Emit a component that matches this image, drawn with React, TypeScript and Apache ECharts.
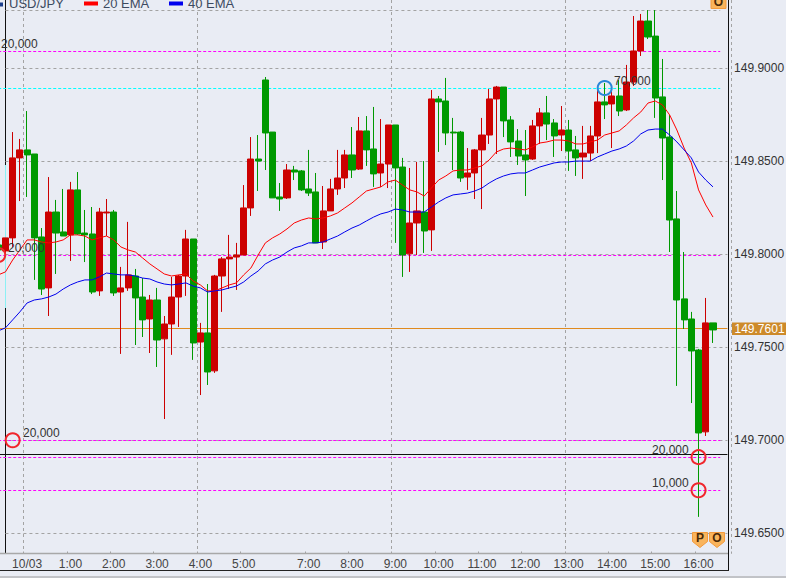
import React, { useEffect, useRef } from "react";
import * as echarts from "echarts";

const opens = [149.8051,149.8019,149.8089,149.8519,149.8562,149.8540,149.8094,149.7820,149.8228,149.8121,149.8105,149.8347,149.8115,149.8110,149.7804,149.8223,149.8228,149.7798,149.7820,149.7884,149.7771,149.7653,149.7755,149.7546,149.7626,149.7771,149.7884,149.8083,149.7529,149.7578,149.7374,149.7884,149.7976,149.7986,149.7997,149.8250,149.8513,149.8938,149.8658,149.8309,149.8304,149.8454,149.8449,149.8352,149.8336,149.8067,149.8234,149.8352,149.8411,149.8535,149.8459,149.8664,149.8567,149.8438,149.8486,149.8696,149.8470,149.8003,149.8169,149.8228,149.8132,149.8836,149.8825,149.8658,149.8658,149.8416,149.8438,149.8562,149.8642,149.8836,149.8900,149.8723,149.8610,149.8535,149.8513,149.8691,149.8761,149.8707,149.8642,149.8669,149.8562,149.8524,149.8545,149.8637,149.8820,149.8809,149.8852,149.8777,149.8927,149.9094,149.9255,149.9174,149.8847,149.8631,149.8191,149.7761,149.7653,149.7486,149.7046,149.7632];
const closes = [149.8024,149.8089,149.8519,149.8562,149.8535,149.8089,149.7814,149.8228,149.8115,149.8099,149.8347,149.8110,149.8105,149.7798,149.8228,149.8228,149.7793,149.7820,149.7890,149.7766,149.7648,149.7755,149.7540,149.7626,149.7771,149.7884,149.8083,149.7524,149.7578,149.7368,149.7884,149.7976,149.7986,149.7997,149.8250,149.8513,149.8502,149.8653,149.8304,149.8298,149.8454,149.8443,149.8347,149.8330,149.8062,149.8234,149.8352,149.8411,149.8535,149.8454,149.8664,149.8562,149.8433,149.8486,149.8696,149.8465,149.7997,149.8169,149.8234,149.8126,149.8836,149.8820,149.8653,149.8653,149.8411,149.8438,149.8562,149.8642,149.8836,149.8900,149.8718,149.8605,149.8529,149.8508,149.8691,149.8761,149.8701,149.8637,149.8669,149.8556,149.8519,149.8545,149.8637,149.8820,149.8804,149.8852,149.8771,149.8927,149.9094,149.9255,149.9169,149.8841,149.8626,149.8185,149.7755,149.7648,149.7481,149.7040,149.7632,149.7594];
const lows = [149.8024,149.8008,149.8040,149.8287,149.8309,149.7863,149.7782,149.7669,149.7895,149.8099,149.7965,149.8105,149.7959,149.7787,149.7777,149.8099,149.7777,149.7465,149.7804,149.7513,149.7556,149.7470,149.7395,149.7115,149.7460,149.7610,149.7777,149.7433,149.7244,149.7298,149.7363,149.7691,149.7814,149.7809,149.7997,149.8207,149.8341,149.8454,149.8304,149.8234,149.8298,149.8400,149.8341,149.8314,149.8062,149.8029,149.8234,149.8320,149.8357,149.8411,149.8454,149.8476,149.8363,149.8363,149.8357,149.8062,149.7879,149.7906,149.7997,149.8008,149.8019,149.8551,149.8588,149.8454,149.8390,149.8347,149.8298,149.8244,149.8594,149.8540,149.8631,149.8524,149.8481,149.8314,149.8508,149.8594,149.8615,149.8524,149.8556,149.8449,149.8422,149.8406,149.8502,149.8545,149.8728,149.8572,149.8744,149.8771,149.8906,149.9067,149.9158,149.8734,149.8400,149.8013,149.7293,149.7599,149.7201,149.6589,149.7024,149.7524];
const highs = [149.8051,149.8089,149.8658,149.8621,149.8771,149.8540,149.8142,149.8416,149.8293,149.8352,149.8390,149.8443,149.8239,149.8255,149.8250,149.8298,149.8239,149.7933,149.8175,149.7922,149.7873,149.7782,149.7820,149.7669,149.7879,149.7890,149.8132,149.8083,149.7632,149.7841,149.7890,149.7986,149.8105,149.8062,149.8373,149.8631,149.8642,149.8954,149.8658,149.8384,149.8486,149.8476,149.8454,149.8562,149.8438,149.8368,149.8406,149.8562,149.8562,149.8685,149.8739,149.8744,149.8793,149.8728,149.8696,149.8696,149.8519,149.8465,149.8497,149.8502,149.8884,149.8852,149.8949,149.8734,149.8664,149.8572,149.8567,149.8734,149.8890,149.8906,149.8900,149.8744,149.8674,149.8669,149.8723,149.8787,149.8852,149.8728,149.8798,149.8723,149.8637,149.8691,149.8691,149.8884,149.8922,149.8884,149.8938,149.9019,149.9282,149.9293,149.9314,149.9314,149.9051,149.8750,149.8341,149.8013,149.7691,149.7492,149.7766,149.7632];
const ema20 = [149.7890,149.7906,149.7970,149.8024,149.8078,149.8078,149.8067,149.8062,149.8067,149.8078,149.8105,149.8105,149.8099,149.8078,149.8089,149.8099,149.8078,149.8040,149.8024,149.8013,149.7981,149.7949,149.7922,149.7895,149.7884,149.7890,149.7895,149.7857,149.7836,149.7804,149.7804,149.7820,149.7836,149.7847,149.7890,149.7927,149.7997,149.8062,149.8089,149.8110,149.8137,149.8169,149.8185,149.8196,149.8191,149.8196,149.8207,149.8223,149.8250,149.8277,149.8309,149.8341,149.8352,149.8363,149.8390,149.8400,149.8373,149.8347,149.8336,149.8314,149.8357,149.8400,149.8422,149.8449,149.8454,149.8454,149.8465,149.8476,149.8508,149.8551,149.8567,149.8572,149.8567,149.8562,149.8578,149.8599,149.8605,149.8615,149.8615,149.8610,149.8594,149.8594,149.8605,149.8615,149.8642,149.8653,149.8664,149.8696,149.8734,149.8766,149.8814,149.8825,149.8804,149.8750,149.8669,149.8572,149.8492,149.8347,149.8266,149.8201];
const ema40 = [149.7589,149.7605,149.7648,149.7691,149.7739,149.7755,149.7761,149.7771,149.7787,149.7814,149.7836,149.7852,149.7863,149.7863,149.7879,149.7900,149.7895,149.7890,149.7890,149.7884,149.7873,149.7868,149.7852,149.7841,149.7836,149.7841,149.7847,149.7830,149.7820,149.7798,149.7804,149.7809,149.7820,149.7830,149.7852,149.7884,149.7911,149.7949,149.7970,149.7986,149.8013,149.8035,149.8046,149.8062,149.8062,149.8067,149.8083,149.8099,149.8121,149.8142,149.8158,149.8180,149.8201,149.8218,149.8228,149.8244,149.8239,149.8228,149.8228,149.8228,149.8255,149.8282,149.8304,149.8320,149.8325,149.8330,149.8341,149.8357,149.8384,149.8406,149.8422,149.8433,149.8438,149.8438,149.8454,149.8470,149.8481,149.8492,149.8497,149.8497,149.8502,149.8502,149.8502,149.8524,149.8540,149.8556,149.8567,149.8583,149.8610,149.8648,149.8669,149.8674,149.8674,149.8642,149.8605,149.8562,149.8519,149.8443,149.8400,149.8363];

const hourLabels: Record<number, string> = {
  4: "10/03", 10: "1:00", 16: "2:00", 22: "3:00", 28: "4:00", 34: "5:00", 43: "7:00", 49: "8:00",
  55: "9:00", 61: "10:00", 67: "11:00", 73: "12:00", 79: "13:00", 85: "14:00", 91: "15:00", 97: "16:00",
};
const gridIndexes = [4, 28, 55, 79];
const bandCount = 102;
const categories = Array.from({ length: bandCount }, (_, i) => hourLabels[i] ?? "");
const priceTicks = [149.65, 149.7, 149.75, 149.8, 149.85, 149.9];
const topLine = 149.9313;
const magentaLevels = [149.9094, 149.7995, 149.7001, 149.691, 149.6732];
const cyanLevel = 149.8892;
const blackLevel = 149.6926;
const lastPrice = 149.7603;
const circles = [
  { i: 0, v: 149.7997, color: "#f0262c" },
  { i: 2, v: 149.7001, color: "#f0262c" },
  { i: 97, v: 149.691, color: "#f0262c" },
  { i: 97, v: 149.6732, color: "#f0262c" },
  { i: 84, v: 149.8895, color: "#2a86d8" },
];
const volumeNotes = [
  { t: "20,000", x: 1, y: 44 },
  { t: "20,000", x: 8, y: 248 },
  { t: "20,000", x: 23, y: 433 },
  { t: "70,000", x: 614, y: 81 },
  { t: "20,000", x: 652, y: 450 },
  { t: "10,000", x: 652, y: 483 },
];

const hLine = (v: number, from: number, to: number, color: string, type: any, width = 1) => [
  { xAxis: from, yAxis: v, lineStyle: { color, type, width } },
  { xAxis: to, yAxis: v },
];

function badge(cx: number, letter: string) {
  return [
    {
      type: "polygon", z: 50,
      shape: { points: [[cx - 7.5, 532.5], [cx + 7.5, 532.5], [cx + 7.5, 541.5], [cx, 547.5], [cx - 7.5, 541.5]] },
      style: { fill: "#f9b45c", stroke: "#f39a3c", lineWidth: 1 },
    },
    {
      type: "text", z: 51, x: cx, y: 538,
      style: { text: letter, fill: "#4a2a08", font: "bold 12px 'Liberation Sans'", align: "center", verticalAlign: "middle" },
    },
  ];
}

export default function App() {
  const ref = useRef<HTMLDivElement>(null);
  useEffect(() => {
    const chart = echarts.init(ref.current!, undefined, { renderer: "svg" });
    const gray = "#a3a3a3";
    const font = "'Liberation Sans'";
    const txt = (t: string, x: number, y: number, fill = "#333", size = 12) => ({
      type: "text", z: 40, x, y,
      style: { text: t, fill, font: `${size}px ${font}`, verticalAlign: "middle" },
    });
    const vl = (x: number, y1: number, y2: number, stroke: string, w = 1, z = 1) => ({
      type: "line", z, shape: { x1: x, y1, x2: x, y2 }, style: { stroke, lineWidth: w },
    });
    const hl = (y: number, x1: number, x2: number, stroke: string, w = 1, z = 1) => ({
      type: "line", z, shape: { x1, y1: y, x2, y2: y }, style: { stroke, lineWidth: w },
    });
    chart.setOption({
      animation: false,
      backgroundColor: "#e9ecf4",
      grid: { left: -5.4, right: 54.96, top: 0, bottom: 24.5, containLabel: false, outerBoundsMode: "none" },
      xAxis: {
        type: "category",
        data: categories,
        boundaryGap: true,
        axisLine: { show: false },
        axisTick: {
          show: true, inside: true, length: 2, lineStyle: { color: "#a0a0a0" },
          interval: (i: number) => categories[i] !== "",
        },
        axisLabel: {
          color: "#444", fontFamily: "Liberation Sans", fontSize: 12, margin: 4,
          interval: (i: number) => categories[i] !== "", hideOverlap: false,
        },
        splitLine: {
          show: true, lineStyle: { color: gray, type: [3, 3], width: 1 },
          interval: (i: number) => gridIndexes.includes(i),
        },
      },
      yAxis: {
        type: "value",
        position: "right",
        min: 149.6392,
        max: 149.9368,
        scale: true,
        axisLine: { show: false },
        axisTick: { show: false },
        splitLine: { show: false },
        axisLabel: {
          customValues: priceTicks, color: "#333", fontFamily: "Liberation Sans", fontSize: 12, margin: 3,
          padding: [2, 0, 0, 0],
          formatter: (v: number) => v.toFixed(4),
        },
      },
      series: [
        {
          type: "candlestick",
          barWidth: 6.6,
          z: 3,
          data: opens.map((o, i) => [o, closes[i], lows[i], highs[i]]),
          itemStyle: { color: "#cc0000", color0: "#009900", borderColor: "#cc0000", borderColor0: "#009900", borderWidth: 1 },
          markLine: {
            silent: true, symbol: "none", animation: false, z: 1, label: { show: false },
            data: [
              hLine(topLine, 0.66, 100.3, gray, [3, 3]),
              ...priceTicks.map((v) => hLine(v, 0.66, 100.5, gray, [3, 3])),
              ...magentaLevels.map((v) => hLine(v, -0.2, 99.55, "#ff00ff", [3, 2])),
              hLine(cyanLevel, -0.2, 99.55, "#00ffff", [3, 2]),
              hLine(blackLevel, -0.2, 100.6, "#111", "solid"),
              hLine(lastPrice, -0.2, 100.5, "#e08a1e", "solid"),
            ],
          },
        },
        { type: "line", data: ema20, showSymbol: false, z: 5, lineStyle: { color: "#ff0000", width: 1 } },
        { type: "line", data: ema40, showSymbol: false, z: 6, lineStyle: { color: "#0000ee", width: 1 } },
        {
          type: "scatter", z: 7, symbol: "circle", symbolSize: 14,
          data: circles.map((c) => ({
            value: [c.i, c.v],
            itemStyle: { color: "rgba(0,0,0,0)", borderColor: c.color, borderWidth: 2, opacity: 1 },
          })),
        },
      ],
      graphic: [
        vl(5.5, 0, 165, "#111"),
        vl(5.5, 165, 308, "#8cf0f4"),
        vl(5.5, 308, 553, "#111"),
        hl(553.5, 0, 728, "#a8a8a8", 1.5),
        vl(728.5, 0, 570, "#111"),
        hl(570.5, 0, 729, "#222"),
        hl(577, 0, 786, "#9a9a9a"),
        { type: "rect", z: 30, shape: { x: 0, y: 2.5, width: 3, height: 4 }, style: { fill: "#1c3f8c" } },
        txt("USD/JPY", 9, 3.5, "#3c4a60", 13),
        { type: "rect", z: 30, shape: { x: 84, y: 1.5, width: 14, height: 4 }, style: { fill: "#ff0000" } },
        txt("20 EMA", 103, 3.5, "#3c4a60", 13),
        { type: "rect", z: 30, shape: { x: 169, y: 1.5, width: 14, height: 4 }, style: { fill: "#0000ee" } },
        txt("40 EMA", 188, 3.5, "#3c4a60", 13),
        ...volumeNotes.map((n) => txt(n.t, n.x, n.y)),
        { type: "rect", z: 30, shape: { x: 711, y: -2, width: 15, height: 10.5 }, style: { fill: "#f9b45c", stroke: "#f39a3c", lineWidth: 1 } },
        {
          type: "text", z: 51, x: 718.5, y: 2,
          style: { text: "O", fill: "#4a2a08", font: `bold 12px ${font}`, align: "center", verticalAlign: "middle" },
        },
        ...badge(700, "P"),
        ...badge(717, "O"),
        { type: "rect", z: 30, shape: { x: 732, y: 322.5, width: 54, height: 12.5 }, style: { fill: "#cd8a2a" } },
        txt("149.7601", 734.5, 329, "#ffffff"),
      ],
    });
    return () => chart.dispose();
  }, []);
  return <div ref={ref} style={{ position: "fixed", left: 0, top: 0, width: 786, height: 578 }} />;
}
